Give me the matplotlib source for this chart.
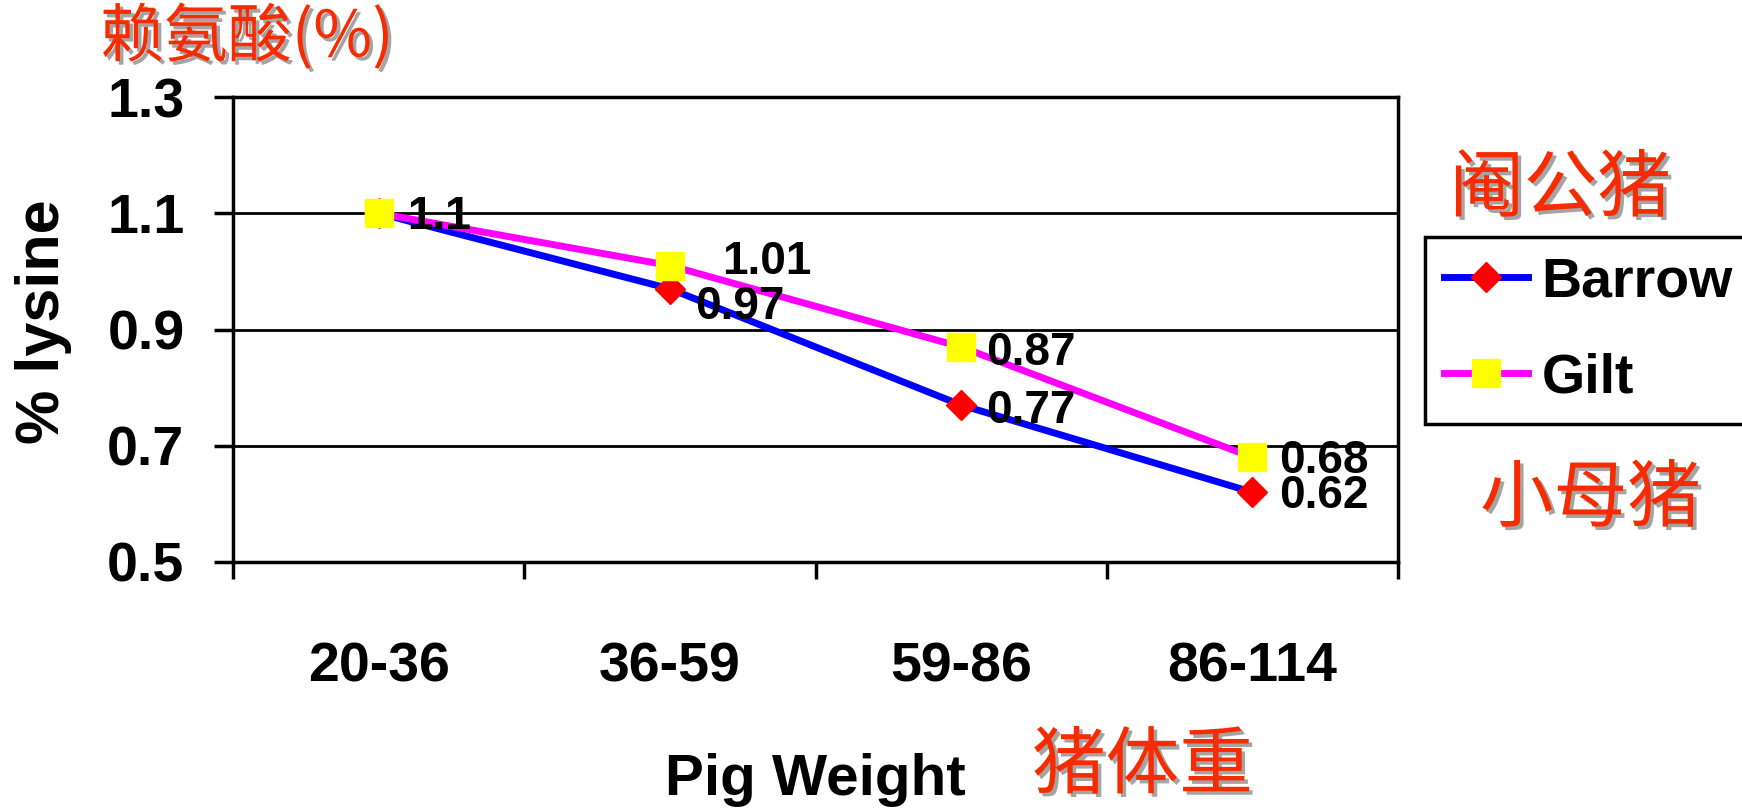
import numpy as np
import matplotlib
matplotlib.use('Agg')
import matplotlib.pyplot as plt
import matplotlib.patheffects as pe

# data
weights = ['20-36', '36-59', '59-86', '86-114']
barrow = [1.10, 0.97, 0.77, 0.62]
gilt = [1.10, 1.01, 0.87, 0.68]
y_ticks = [0.5, 0.7, 0.9, 1.1, 1.3]

# label offsets in pixels (right, up) from each point
barrow_off = [(28, 0), (25, -14), (25, -2), (27, 0)]
gilt_off = [(28, 0), (52, 8), (25, -2), (27, 0)]

red_cn = '#F82A00'
cjk = ['Noto Sans CJK SC', 'DejaVu Sans']
shadow = [pe.SimplePatchShadow(offset=(2.5, -2.5), shadow_rgbFace='#9a9a9a', alpha=0.9), pe.Normal()]

plt.rcParams['font.family'] = ['Liberation Sans', 'DejaVu Sans']
plt.rcParams['font.weight'] = 'bold'

fig = plt.figure(figsize=(17.42, 8.10), dpi=100)
fig.patch.set_facecolor('white')
ax = fig.add_axes([233 / 1742, 1 - 562 / 810, (1398 - 233) / 1742, (562 - 97) / 810])

x = np.arange(len(weights))

ax.plot(x, barrow, color='#0000FF', lw=5, marker='D', ms=15,
        mfc='#FF0000', mec='#FF0000', label='Barrow', zorder=3)
ax.plot(x, gilt, color='#FF00FF', lw=5, marker='s', ms=20,
        mfc='#FFFF00', mec='#FFFF00', label='Gilt', zorder=4)

# value labels
for xs, ys, offs in [(x, barrow, barrow_off), (x, gilt, gilt_off)]:
    for xi, yi, (dx, dy) in zip(xs, ys, offs):
        ax.annotate(f'{yi:g}', (xi, yi), xytext=(dx, dy - 16), textcoords='offset pixels',
                    ha='left', va='baseline', fontsize=33, fontweight='bold', color='black',
                    zorder=5)

# axes
ax.set_xlim(-0.5, len(weights) - 0.5)
ax.set_ylim(0.5, 1.3)
ax.set_yticks(y_ticks)
ax.set_yticklabels([f'{v:.1f}' for v in y_ticks])
ax.tick_params(axis='y', length=14, width=2.5, direction='out', pad=21, labelsize=40)
ax.set_xticks(np.arange(len(weights) + 1) - 0.5)
ax.set_xticklabels([])
ax.set_xticks(x, minor=True)
ax.set_xticklabels(weights, minor=True)
ax.tick_params(axis='x', which='major', length=12, width=2.5, direction='out')
ax.tick_params(axis='x', which='minor', length=0, pad=57, labelsize=40)
for s in ax.spines.values():
    s.set_linewidth(2.5)
    s.set_color('black')
ax.yaxis.grid(True, color='black', lw=2)
ax.set_axisbelow(True)

fig.text(44 / 1742, 1 - 322 / 810, '% lysine', rotation=90, ha='center', va='center',
         fontsize=44, fontweight='bold')
fig.text(815 / 1742, 1 - 795 / 810, 'Pig Weight', ha='center', va='baseline',
         fontsize=42, fontweight='bold')

leg = ax.legend(loc='upper left', bbox_to_anchor=(1425 / 1742, 1 - 237 / 810),
                bbox_transform=fig.transFigure, fancybox=False, edgecolor='black',
                borderaxespad=0, handlelength=1.5, handletextpad=0.25, labelspacing=0.8,
                borderpad=0.35, prop={'size': 40, 'weight': 'bold'}, framealpha=1)
leg.get_frame().set_linewidth(2.5)

# chinese captions
fig.text(100 / 1742, 1 - 38 / 810, '赖氨酸(%)', ha='left', va='center', fontsize=46,
         fontweight='normal', color=red_cn, family=cjk, path_effects=shadow)
fig.text(1450 / 1742, 1 - 190 / 810, '阉公猪', ha='left', va='center', fontsize=53,
         fontweight='normal', color=red_cn, family=cjk, path_effects=shadow)
fig.text(1480 / 1742, 1 - 500 / 810, '小母猪', ha='left', va='center', fontsize=53,
         fontweight='normal', color=red_cn, family=cjk, path_effects=shadow)
fig.text(1032 / 1742, 1 - 767 / 810, '猪体重', ha='left', va='center', fontsize=53,
         fontweight='normal', color=red_cn, family=cjk, path_effects=shadow)

plt.savefig('out.png', dpi=100, facecolor=fig.get_facecolor())
